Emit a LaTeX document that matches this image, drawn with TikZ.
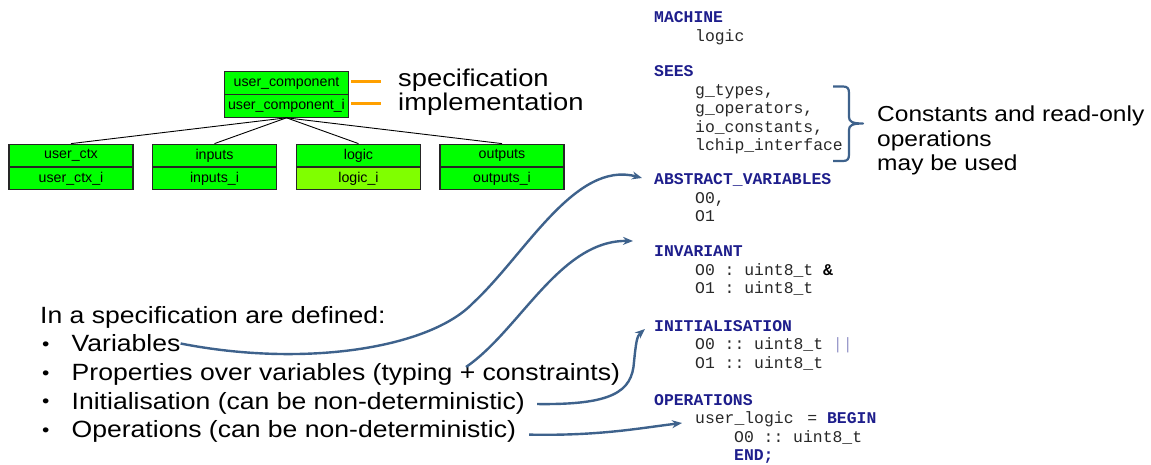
\documentclass[tikz,border=0pt]{standalone}
\usepackage{fontspec}
\setmainfont[FakeStretch=1.13]{Liberation Sans}
\newfontfamily\boxfont{Liberation Sans}
\setmonofont{Liberation Mono}
\usetikzlibrary{arrows.meta}
\definecolor{boxgreen}{RGB}{0,255,0}
\definecolor{limegreen}{RGB}{128,255,0}
\definecolor{arrowblue}{RGB}{62,98,140}
\definecolor{kwblue}{RGB}{30,30,140}
\definecolor{codegray}{RGB}{40,40,40}
\definecolor{lineorange}{RGB}{255,160,0}
\newcommand\kwd[1]{\textcolor{kwblue}{\bfseries #1}}
\tikzset{
  modbox/.style={draw=black!85, line width=1.2pt, fill=boxgreen, minimum width=124pt,
    minimum height=22.8pt, inner sep=0pt, font=\boxfont\fontsize{14.2}{16}\selectfont},
  treeline/.style={draw=black, line width=0.9pt},
  code/.style={anchor=base west, inner sep=0pt, font=\ttfamily\fontsize{16.4}{18}\selectfont, text=codegray},
  kw/.style={code, font=\ttfamily\bfseries\fontsize{16.4}{18}\selectfont, text=kwblue},
  body/.style={anchor=base west, inner sep=0pt, font=\fontsize{23.5}{28}\selectfont},
  bulletmark/.style={anchor=base west, inner sep=0pt, font=\fontsize{18.5}{20}\selectfont},
  note/.style={anchor=base west, inner sep=0pt, font=\fontsize{21.7}{24}\selectfont},
  label/.style={anchor=base west, inner sep=0pt, font=\fontsize{24.2}{28}\selectfont},
  link/.style={draw=arrowblue, line width=2.4pt, -{Stealth[length=10pt,width=8pt]}},
  orangeline/.style={draw=lineorange, line width=2.6pt},
}
\begin{document}
\begin{tikzpicture}[x=1pt,y=-1pt]
\fill[white] (0,0) rectangle (1151,464);
\useasboundingbox (0,0) rectangle (1151,464);

% tree of components
\node[modbox] (uc)  at (286.5,83.2) {user\_component};
\node[modbox] (uci) at (286.5,105.8) {user\_component\_i};
\node[modbox] (ctx)  at (71,155.6) {user\_ctx};
\node[modbox] (ctxi) at (71,178.4) {user\_ctx\_i};
\node[modbox] (inp)  at (214.5,155.6) {inputs};
\node[modbox] (inpi) at (214.5,178.4) {inputs\_i};
\node[modbox] (lg)   at (358.5,155.6) {logic};
\node[modbox, fill=limegreen] (lgi) at (358.5,178.4) {logic\_i};
\node[modbox] (out)  at (502,155.6) {outputs};
\node[modbox] (outi) at (502,178.4) {outputs\_i};
\draw[treeline] (uci.south) -- (ctx.north);
\draw[treeline] (uci.south) -- (inp.north);
\draw[treeline] (uci.south) -- (lg.north);
\draw[treeline] (uci.south) -- (out.north);

\node[label] (spec) at (398,86.5) {specification};
\node[label] (impl) at (398,110) {implementation};
\draw[orangeline] ([xshift=2pt]uc.east |- 0,81.5) -- ([xshift=-17pt]spec.west |- 0,81.5);
\draw[orangeline] ([xshift=2pt]uci.east |- 0,103.5) -- ([xshift=-17pt]impl.west |- 0,103.5);

% code listing
\node[kw]   (m0) at (654,22.7) {MACHINE};
\node[code] (m1) at (695,41.2) {logic};
\node[kw]   (s0) at (654,76.7) {SEES};
\node[code] (s1) at (695,95.2) {g\_types,};
\node[code] (s2) at (695,113.7) {g\_operators,};
\node[code] (s3) at (695,132.2) {io\_constants,};
\node[code] (s4) at (695,150.7) {lchip\_interface};
\node[kw]   (a0) at (654,184.5) {ABSTRACT\_VARIABLES};
\node[code] (a1) at (695,203) {O0,};
\node[code] (a2) at (695,221.5) {O1};
\node[kw]   (v0) at (654,256.7) {INVARIANT};
\node[code] (v1) at (695,275.2) {O0 : uint8\_t \textcolor{black}{\bfseries\&}};
\node[code] (v2) at (695,293.7) {O1 : uint8\_t};
\node[kw]   (n0) at (654,331) {INITIALISATION};
\node[code] (n1) at (695,349.5) {O0 :: uint8\_t \textcolor{kwblue!45}{||}};
\node[code] (n2) at (695,368) {O1 :: uint8\_t};
\node[kw]   (o0) at (654,405) {OPERATIONS};
\node[code] (o1) at (695,423.5) {user\_logic\hspace{4pt} = \kwd{BEGIN}};
\node[code] (o2) at (734,442) {O0 :: uint8\_t};
\node[kw]   (o3) at (734,460.5) {END;};

% brace
\draw[arrowblue, line width=2.2pt, line join=round]
  (833,86.5) -- (843,86.5) .. controls (847.5,86.5) and (849,88.5) .. (849,93)
  -- (849,117) .. controls (849,121.5) and (852,123.5) .. (863,123.5)
  .. controls (852,123.5) and (849,125.5) .. (849,130)
  -- (849,154.5) .. controls (849,159) and (847.5,161) .. (843,161) -- (833,161);
\node[note] (c1) at (877,121.7) {Constants and read-only};
\node[note] (c2) at (877,146.3) {operations};
\node[note] (c3) at (877,170.8) {may be used};

% bullet list
\node[body] (hd) at (40,323.3) {In a specification are defined:};
\node[bulletmark] (b1) at (42,350.4) {•};
\node[body] (i1) at (71.5,351.9) {Variables};
\node[bulletmark] (b2) at (42,379) {•};
\node[body] (i2) at (71.5,380.5) {Properties over variables (typing + constraints)};
\node[bulletmark] (b3) at (42,407.6) {•};
\node[body] (i3) at (71.5,409.1) {Initialisation (can be non-deterministic)};
\node[bulletmark] (b4) at (42,436.2) {•};
\node[body] (i4) at (71.5,437.7) {Operations (can be non-deterministic)};

% connectors
\coordinate (t1) at (642,178);
\coordinate (t2) at (633,241);
\coordinate (t3) at (645,329);
\coordinate (t4) at (682,423);
\coordinate (p2) at (466,367);
\draw[link] (i1.east) .. controls (305,368) and (430,348) .. (473,303)
  .. controls (525,255) and (575,160) .. (t1);
\draw[link] (p2) .. controls (520,330) and (560,240) .. (t2);
\draw[link] ([xshift=12pt,yshift=-1pt]i3.east) .. controls (612,405) and (632,392) .. (634,362)
  .. controls (636,342) and (637,336) .. (t3);
\draw[link] ([xshift=13pt,yshift=-3pt]i4.east) .. controls (600,436) and (640,428) .. (t4);
\end{tikzpicture}
\end{document}
